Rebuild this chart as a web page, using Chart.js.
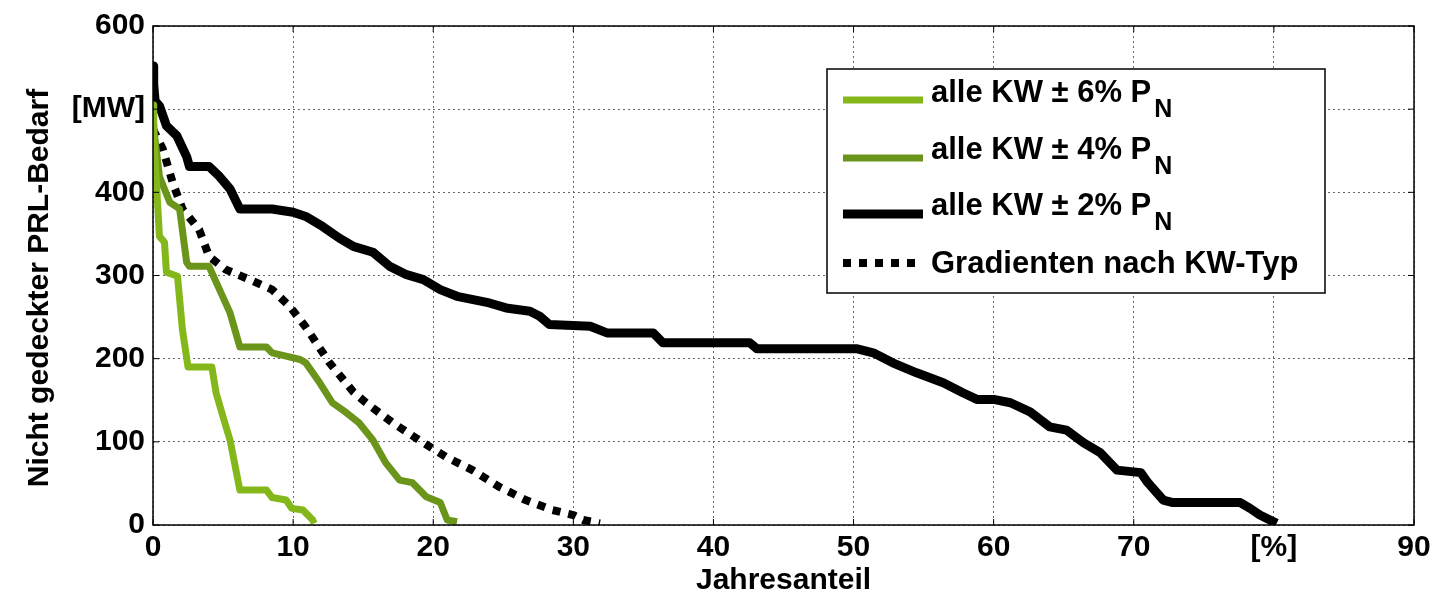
<!DOCTYPE html>
<html>
<head>
<meta charset="utf-8">
<script src="https://cdn.jsdelivr.net/npm/chart.js@4.4.1/dist/chart.umd.min.js"></script>
<style>
  html, body { margin: 0; padding: 0; background: #fff; }
  .wrap { position: relative; width: 1438px; height: 597px; }
</style>
</head>
<body>
<div class="wrap"><canvas id="prl"></canvas></div>
<script>
// x = Jahresanteil [%], y = nicht gedeckter PRL-Bedarf [MW]
const xTicks = [0, 10, 20, 30, 40, 50, 60, 70, 80, 90];
const yTicks = [0, 100, 200, 300, 400, 500, 600];

const kw6X = [0, 0.05, 0.15, 0.46, 0.82, 0.96, 1.75, 2.1, 2.5, 4.2, 4.5, 5.0, 5.5, 6.2, 8.1, 8.5, 9.5, 9.9, 10.7, 11.4, 11.5];
const kw6Y = [505, 470, 440, 347, 340, 304, 299, 235, 190, 190, 159, 130, 102, 42, 42, 33, 30, 20, 18, 6, 2];

const kw4X = [0, 0.1, 0.46, 1.2, 1.9, 2.4, 2.6, 4.0, 4.75, 5.5, 6.2, 8.1, 8.5, 9.5, 10.5, 10.9, 11.9, 12.8, 13.8, 14.7, 15.7, 16.6, 17.6, 18.5, 19.5, 20.5, 21.0, 21.7];
const kw4Y = [492, 470, 419, 388, 380, 316, 311, 311, 283, 255, 214, 214, 207, 203, 199, 195, 171, 147, 135, 123, 102, 75, 54, 51, 34, 27, 6, 4];

const kw2X = [0, 0.05, 0.15, 0.46, 0.96, 1.7, 2.4, 2.6, 4.0, 4.75, 5.5, 6.2, 8.5, 10.0, 10.9, 12.1, 13.3, 14.3, 15.7, 16.9, 18.1, 19.3, 20.5, 21.7, 24.0, 25.2, 26.9, 27.6, 28.3, 31.2, 32.4, 35.7, 36.4, 42.6, 43.1, 50.2, 51.4, 52.8, 54.5, 56.4, 57.8, 58.8, 60.0, 61.2, 62.6, 64.0, 65.2, 66.4, 67.6, 68.8, 70.5, 71.0, 72.1, 72.8, 77.6, 78.3, 79.0, 80.2];
const kw2Y = [552, 530, 510, 504, 480, 468, 443, 431, 431, 419, 404, 380, 380, 376, 371, 359, 345, 335, 328, 311, 301, 295, 283, 275, 267, 261, 257, 251, 241, 239, 231, 231, 219, 219, 212, 212, 207, 195, 183, 171, 159, 151, 151, 147, 136, 118, 114, 99, 87, 66, 63, 51, 30, 27, 27, 20, 12, 2];

const gradX = [0, 0.7, 1.4, 2.1, 3.3, 4.0, 5.2, 6.9, 8.5, 9.75, 10.9, 12.6, 14.3, 15.2, 17.1, 19.0, 20.9, 22.8, 24.7, 26.6, 28.5, 30.0, 30.7, 31.9];
const gradY = [476, 452, 412, 380, 355, 323, 307, 295, 283, 263, 238, 195, 160, 147, 123, 102, 82, 66, 46, 30, 18, 12, 6, 2];

const seriesNames = ["alle KW \u00b1 6% P", "alle KW \u00b1 4% P", "alle KW \u00b1 2% P", "Gradienten nach KW-Typ"];
const seriesSub = ["N", "N", "N", ""];

const pts = (xs, ys) => xs.map((x, i) => ({ x: x, y: ys[i] }));

const FONT = "'Liberation Sans', Arial, Helvetica, sans-serif";
Chart.defaults.font.family = FONT;
Chart.defaults.color = "#000";

// frame, inward ticks and the legend like the original figure
const framePlugin = {
  id: "frame",
  afterDraw(chart) {
    const { ctx, chartArea: a, scales } = chart;
    ctx.save();
    ctx.strokeStyle = "#000";
    ctx.lineWidth = 1.5;
    ctx.strokeRect(a.left, a.top, a.right - a.left, a.bottom - a.top);
    ctx.lineWidth = 1;
    const t = 6;
    xTicks.forEach((v) => {
      const px = scales.x.getPixelForValue(v);
      ctx.beginPath();
      ctx.moveTo(px, a.bottom); ctx.lineTo(px, a.bottom - t);
      ctx.moveTo(px, a.top); ctx.lineTo(px, a.top + t);
      ctx.stroke();
    });
    yTicks.forEach((v) => {
      const py = scales.y.getPixelForValue(v);
      ctx.beginPath();
      ctx.moveTo(a.left, py); ctx.lineTo(a.left + t, py);
      ctx.moveTo(a.right, py); ctx.lineTo(a.right - t, py);
      ctx.stroke();
    });

    // legend box
    const bx = a.left + 674, by = a.top + 43, bw = 498, bh = 224;
    ctx.fillStyle = "#fff";
    ctx.fillRect(bx, by, bw, bh);
    ctx.lineWidth = 1.5;
    ctx.strokeRect(bx, by, bw, bh);
    const rows = [
      { base: by + 33, line: by + 31 },
      { base: by + 90, line: by + 89 },
      { base: by + 146, line: by + 145 },
      { base: by + 204, line: by + 194 },
    ];
    chart.data.datasets.forEach((ds, i) => {
      const r = rows[i];
      ctx.save();
      ctx.strokeStyle = ds.borderColor;
      ctx.lineWidth = ds.borderWidth;
      ctx.setLineDash(ds.borderDash || []);
      ctx.beginPath();
      ctx.moveTo(bx + 16, r.line);
      ctx.lineTo(bx + 96, r.line);
      ctx.stroke();
      ctx.restore();
      ctx.fillStyle = "#000";
      ctx.textBaseline = "alphabetic";
      ctx.textAlign = "left";
      ctx.font = "bold 31px " + FONT;
      const tx = bx + 104;
      ctx.fillText(seriesNames[i], tx, r.base);
      if (seriesSub[i]) {
        const w = ctx.measureText(seriesNames[i]).width;
        ctx.font = "bold 25px " + FONT;
        ctx.fillText(seriesSub[i], tx + w + 3, r.base + 15);
      }
    });
    ctx.restore();
  },
};

const ctx = document.getElementById("prl").getContext("2d");

new Chart(ctx, {
  type: "line",
  data: {
    datasets: [
      {
        label: seriesNames[0] + seriesSub[0],
        data: pts(kw6X, kw6Y),
        borderColor: "#84b81a",
        borderWidth: 7,
      },
      {
        label: seriesNames[1] + seriesSub[1],
        data: pts(kw4X, kw4Y),
        borderColor: "#6b941b",
        borderWidth: 7,
      },
      {
        label: seriesNames[2] + seriesSub[2],
        data: pts(kw2X, kw2Y),
        borderColor: "#000",
        borderWidth: 9,
      },
      {
        label: seriesNames[3],
        data: pts(gradX, gradY),
        borderColor: "#000",
        borderWidth: 8,
        borderDash: [8, 8],
        borderCapStyle: "butt",
      },
    ],
  },
  options: {
    responsive: true,
    maintainAspectRatio: false,
    animation: false,
    layout: { padding: { top: 25, right: 24, left: 0, bottom: 0 } },
    elements: {
      point: { radius: 0, hoverRadius: 0 },
      line: { tension: 0, borderJoinStyle: "round" },
    },
    plugins: {
      legend: { display: false },
      tooltip: { enabled: false },
    },
    scales: {
      x: {
        type: "linear",
        min: 0,
        max: 90,
        afterBuildTicks: (s) => { s.ticks = xTicks.map((v) => ({ value: v })); },
        afterFit: (s) => { s.height = 72; },
        ticks: {
          padding: 5,
          maxRotation: 0,
          font: { size: 30, weight: "bold" },
          callback: (v) => (v === 80 ? "[%]" : v),
        },
        grid: { color: "#666", lineWidth: 1, drawTicks: false },
        border: { display: false, dash: [2, 3] },
        title: {
          display: true,
          text: "Jahresanteil",
          font: { size: 30, weight: "bold" },
          padding: { top: 0, bottom: -2 },
        },
      },
      y: {
        type: "linear",
        min: 0,
        max: 600,
        afterBuildTicks: (s) => { s.ticks = yTicks.map((v) => ({ value: v })); },
        afterFit: (s) => { s.width = 153; },
        ticks: {
          padding: 8,
          font: { size: 30, weight: "bold" },
          callback: (v) => (v === 500 ? "[MW]" : v),
        },
        grid: { color: "#666", lineWidth: 1, drawTicks: false },
        border: { display: false, dash: [2, 3] },
        title: {
          display: true,
          // trailing spaces nudge the centred title down like in the original
          text: "Nicht gedeckter PRL-Bedarf   ",
          font: { size: 30, weight: "bold" },
          padding: { top: 22, bottom: 0 },
        },
      },
    },
  },
  plugins: [framePlugin],
});
</script>
</body>
</html>
